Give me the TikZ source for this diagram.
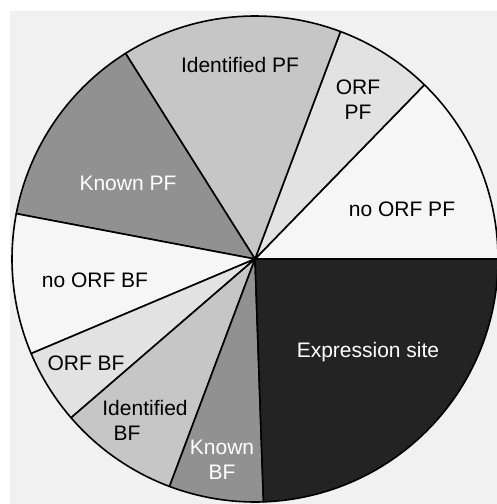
\documentclass[tikz,border=0pt]{standalone}
\usepackage{fontspec}
\setmainfont{Liberation Sans}
\definecolor{bgc}{RGB}{241,241,241}
\definecolor{cwhite}{RGB}{246,246,246}
\definecolor{corf}{RGB}{226,226,226}
\definecolor{cid}{RGB}{198,198,198}
\definecolor{ckn}{RGB}{145,145,145}
\definecolor{cexp}{RGB}{35,35,35}
\begin{document}
\begin{tikzpicture}[x=1pt,y=1pt,
  lbl/.style={font=\fontsize{21}{25}\selectfont, inner sep=0pt, align=center},
  wlbl/.style={lbl, text=white},
  edge/.style={draw=black, line width=1.6pt, line join=round}]
\useasboundingbox (0,0) rectangle (497,504);
\fill[white] (0,0) rectangle (497,504);
\fill[bgc] (10,0) rectangle (497,493);
\coordinate (O) at (255,245);
\def\R{243}
\begin{scope}
\clip (0,0) rectangle (497,504);
\foreach \a/\b/\c in {0/45.8/cwhite, 45.8/69.4/corf, 69.4/122.2/cid, 122.2/169.25/ckn,
  169.25/202.9/cwhite, 202.9/220.8/corf, 220.8/249.4/cid, 249.4/272/ckn, 272/360/cexp}{
  \filldraw[fill=\c, edge] (O) -- ++(\a:\R) arc[start angle=\a, end angle=\b, radius=\R] -- cycle;
}
\end{scope}
\node[lbl] (idpf) at (240,439) {Identified PF};
\node[lbl] (orfpf) at (358,404) {ORF\\PF};
\node[lbl] (noorfpf) at (402,295) {no ORF PF};
\node[wlbl] (knpf) at (128,321) {Known PF};
\node[lbl] (noorfbf) at (95,224) {no ORF BF};
\node[lbl] (orfbf) at (86,141) {ORF BF};
\node[lbl] (idbf1) at (145,96) {Identified};
\node[lbl] (idbf2) at (127,71) {BF};
\node[wlbl] (knbf) at (222,44) {Known\\BF};
\node[wlbl] (exp) at (368,152) {Expression site};
\end{tikzpicture}
\end{document}
